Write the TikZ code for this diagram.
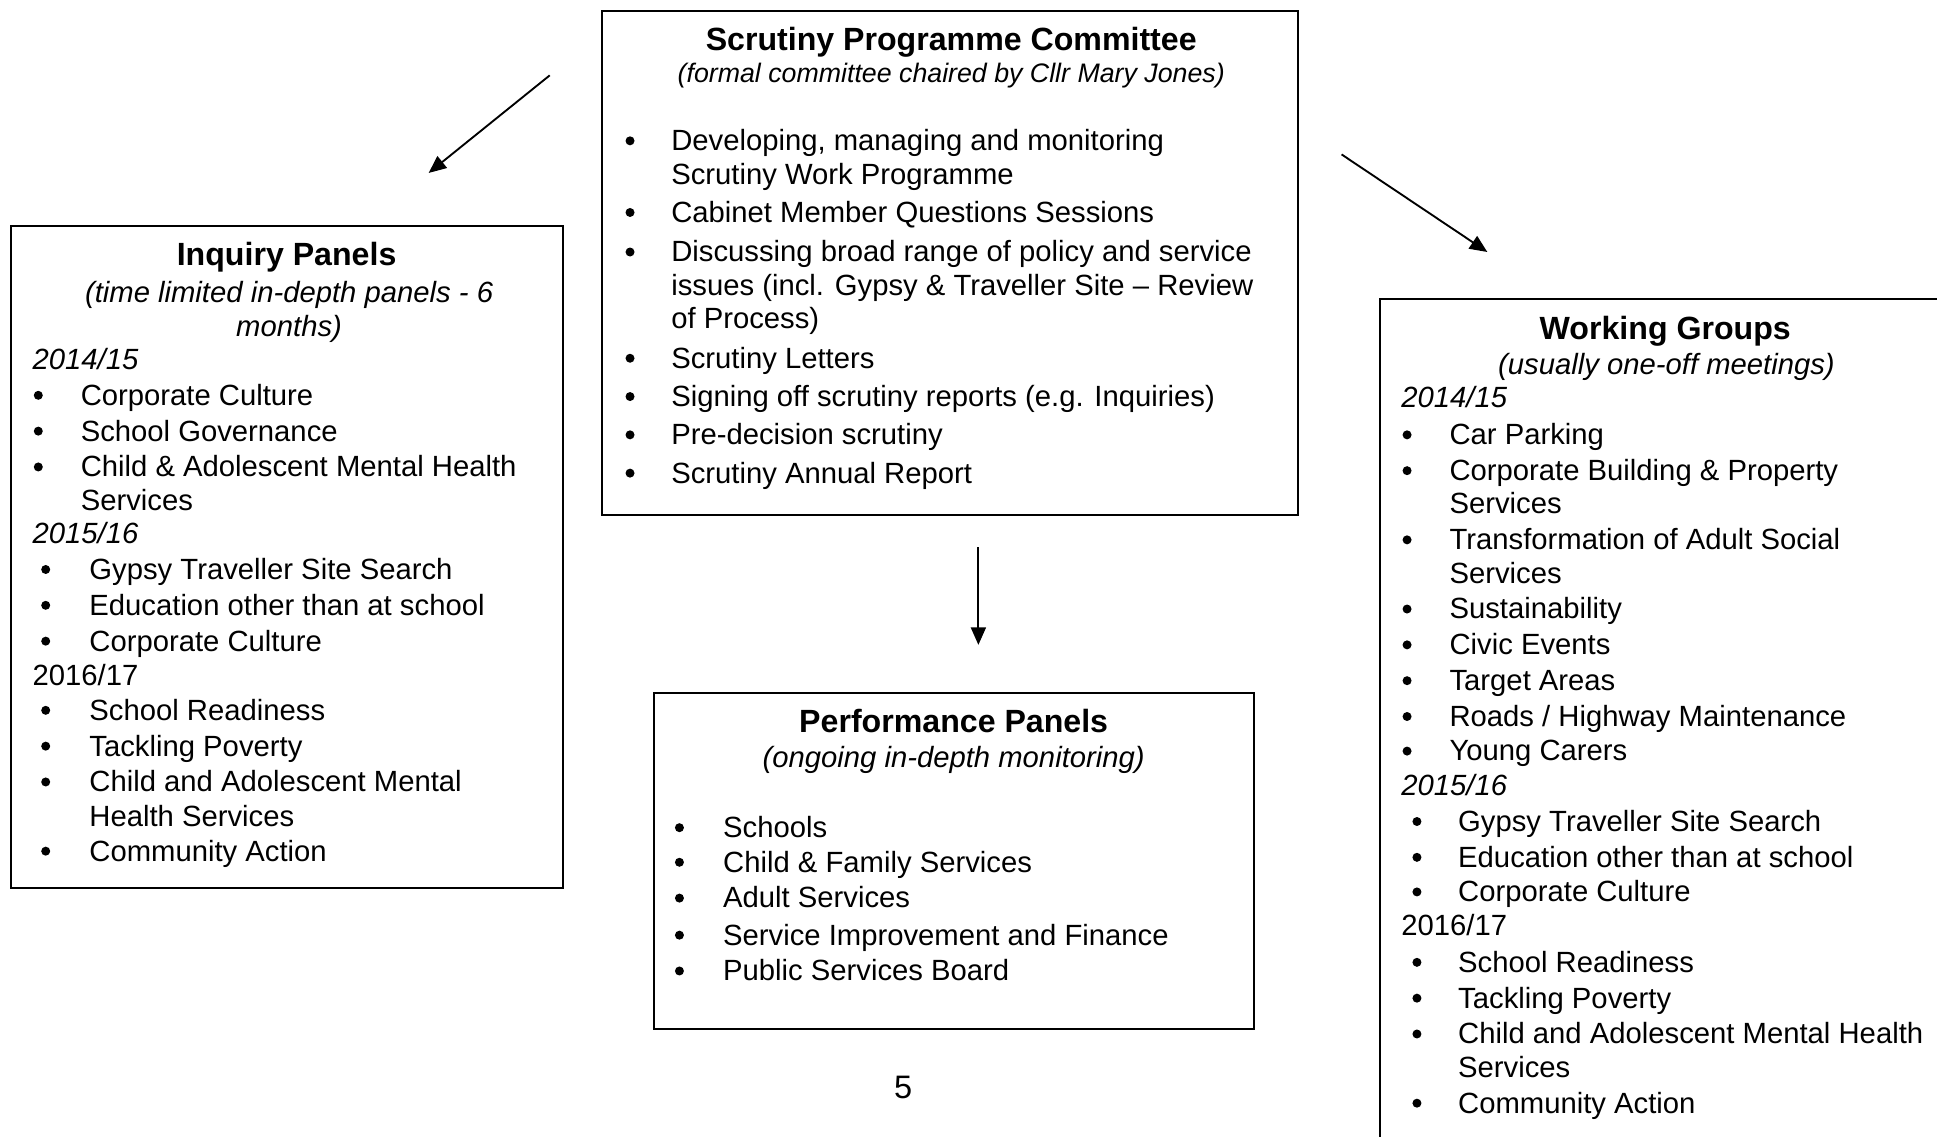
\documentclass[tikz,border=0pt]{standalone}
\usepackage{fontspec}
\setmainfont{Liberation Sans}
\usetikzlibrary{arrows.meta,fit}

\newcommand\fs{\fontsize{11.7pt}{14pt}\selectfont}
\newcommand\fst{\fontsize{12.85pt}{15pt}\selectfont}
% bullet item: name, bullet x, text x, baseline y, text
\newcommand\bl[5]{%
  \node[dot] (#1d) at (#2,#4-8) {};
  \node[txt] (#1) at (#3,#4) {#5};}
% plain left-aligned line: name, x, baseline y, text
\newcommand\pline[4]{\node[txt] (#1) at (#2,#3) {#4};}

\begin{document}
\begin{tikzpicture}[x=0.49412pt,y=-0.49412pt,
  every node/.style={inner sep=0pt,font=\fs},
  txt/.style={anchor=base west},
  dot/.style={circle,fill,minimum size=3.6pt},
  ttl/.style={anchor=base,font=\fst\bfseries},
  sub/.style={anchor=base,font=\fs\itshape},
  yr/.style={anchor=base west,font=\fs\itshape},
  panel/.style={draw,line width=0.8pt,inner sep=0pt},
  arr/.style={line width=0.75pt,-{Triangle[length=7pt,width=6pt]}}]
\clip (0,0) rectangle (1568,919.6);

% frames
\node[panel,fit={(487,9) (1051,417)}] (spc) {};
\node[panel,fit={(9,183) (456,719)}] (inq) {};
\node[panel,fit={(529,561) (1015,833)}] (perf) {};
\node[panel,fit={(1117,242) (1590,940)}] (work) {};

% arrows
\coordinate (aLs) at (445,61);  \coordinate (aLe) at (347,140);
\coordinate (aRs) at (1086,125); \coordinate (aRe) at (1204,204);
\coordinate (aDs) at (792,443); \coordinate (aDe) at (792,522);
\draw[arr] (aLs) -- (aLe);
\draw[arr] (aRs) -- (aRe);
\draw[arr] (aDs) -- (aDe);

% Scrutiny Programme Committee
\node[ttl] (spct) at (770,41) {Scrutiny Programme Committee};
\node[sub,font=\fontsize{10.7pt}{13pt}\selectfont\itshape] (spcs) at (770,67) {(formal committee chaired by Cllr Mary Jones)};
\bl{s1}{510}{543}{122}{Developing, managing and monitoring}
\pline{s1b}{543}{149}{Scrutiny Work Programme}
\bl{s2}{510}{543}{180}{Cabinet Member Questions Sessions}
\bl{s3}{510}{543}{212}{Discussing broad range of policy and service}
\pline{s3b}{543}{239}{issues (incl. Gypsy \& Traveller Site – Review}
\pline{s3c}{543}{266}{of Process)}
\bl{s4}{510}{543}{298}{Scrutiny Letters}
\bl{s5}{510}{543}{329}{Signing off scrutiny reports (e.g. Inquiries)}
\bl{s6}{510}{543}{360}{Pre-decision scrutiny}
\bl{s7}{510}{543}{391}{Scrutiny Annual Report}

% Inquiry Panels
\node[ttl] (inqt) at (232,215) {Inquiry Panels};
\node[sub] (inqs1) at (234,245) {(time limited in-depth panels - 6};
\node[sub] (inqs2) at (234,272) {months)};
\node[yr] (iy1) at (26,299) {2014/15};
\bl{i1}{31}{65}{328}{Corporate Culture}
\bl{i2}{31}{65}{357}{School Governance}
\bl{i3}{31}{65}{386}{Child \& Adolescent Mental Health}
\pline{i3b}{65}{413}{Services}
\node[yr] (iy2) at (26,440) {2015/16};
\bl{i4}{37}{72}{469}{Gypsy Traveller Site Search}
\bl{i5}{37}{72}{498}{Education other than at school}
\bl{i6}{37}{72}{527}{Corporate Culture}
\pline{iy3}{26}{555}{2016/17}
\bl{i7}{37}{72}{583}{School Readiness}
\bl{i8}{37}{72}{612}{Tackling Poverty}
\bl{i9}{37}{72}{641}{Child and Adolescent Mental}
\pline{i9b}{72}{669}{Health Services}
\bl{i10}{37}{72}{697}{Community Action}

% Performance Panels
\node[ttl] (perft) at (772,593) {Performance Panels};
\node[sub] (perfs) at (772,621) {(ongoing in-depth monitoring)};
\bl{p1}{550}{585}{678}{Schools}
\bl{p2}{550}{585}{706}{Child \& Family Services}
\bl{p3}{550}{585}{735}{Adult Services}
\bl{p4}{550}{585}{765}{Service Improvement and Finance}
\bl{p5}{550}{585}{794}{Public Services Board}

% Working Groups
\node[ttl] (workt) at (1348,275) {Working Groups};
\node[sub] (works) at (1349,303) {(usually one-off meetings)};
\node[yr] (wy1) at (1134,330) {2014/15};
\bl{w1}{1139}{1173}{360}{Car Parking}
\bl{w2}{1139}{1173}{389}{Corporate Building \& Property}
\pline{w2b}{1173}{416}{Services}
\bl{w3}{1139}{1173}{445}{Transformation of Adult Social}
\pline{w3b}{1173}{472}{Services}
\bl{w4}{1139}{1173}{501}{Sustainability}
\bl{w5}{1139}{1173}{530}{Civic Events}
\bl{w6}{1139}{1173}{559}{Target Areas}
\bl{w7}{1139}{1173}{588}{Roads / Highway Maintenance}
\bl{w8}{1139}{1173}{616}{Young Carers}
\node[yr] (wy2) at (1134,644) {2015/16};
\bl{w9}{1147}{1180}{673}{Gypsy Traveller Site Search}
\bl{w10}{1147}{1180}{702}{Education other than at school}
\bl{w11}{1147}{1180}{730}{Corporate Culture}
\pline{wy3}{1134}{757}{2016/17}
\bl{w12}{1147}{1180}{787}{School Readiness}
\bl{w13}{1147}{1180}{816}{Tackling Poverty}
\bl{w14}{1147}{1180}{845}{Child and Adolescent Mental Health}
\pline{w14b}{1180}{872}{Services}
\bl{w15}{1147}{1180}{901}{Community Action}

% page number
\node[anchor=base,font=\fontsize{13pt}{15pt}\selectfont] (pageno) at (731,889) {5};
\end{tikzpicture}
\end{document}
